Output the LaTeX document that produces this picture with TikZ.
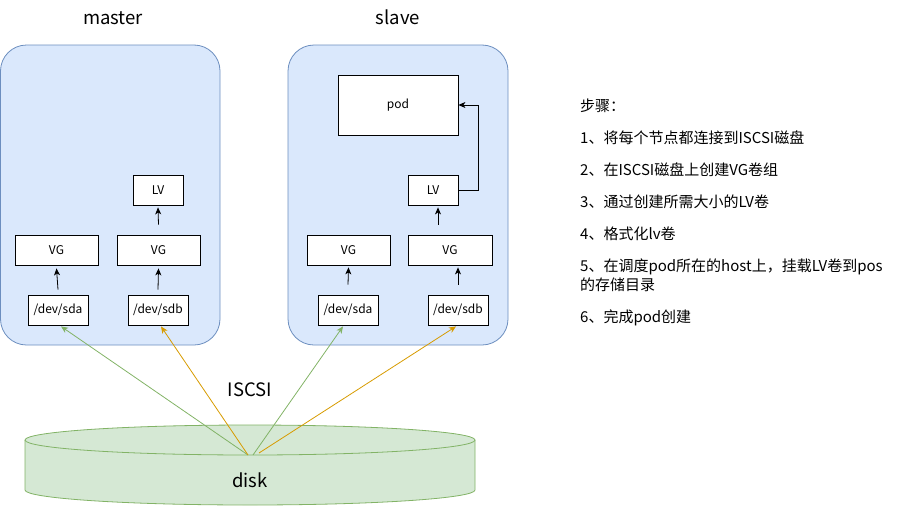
\documentclass[tikz,border=0pt]{standalone}
\usepackage{fontspec}
\setmainfont{Noto Sans CJK SC}
\usetikzlibrary{arrows.meta,calc}
\definecolor{bluefill}{HTML}{DAE8FC}
\definecolor{bluedraw}{HTML}{6C8EBF}
\definecolor{greenfill}{HTML}{D5E8D4}
\definecolor{greendraw}{HTML}{82B366}
\definecolor{orangedraw}{HTML}{D79B00}
\tikzset{
  group/.style={draw=bluedraw, fill=bluefill, rounded corners=26pt, line width=0.8pt},
  box/.style={draw=black, fill=white, inner sep=0pt, line width=0.8pt, font=\fontsize{12}{14}\selectfont},
  arr/.style={draw=black, line width=0.8pt, -{Stealth[length=7pt,width=6pt,inset=2pt]}},
  garr/.style={draw=greendraw, line width=0.8pt, -{Stealth[length=7pt,width=6pt,inset=2pt]}},
  oarr/.style={draw=orangedraw, line width=0.8pt, -{Stealth[length=7pt,width=6pt,inset=2pt]}},
  title/.style={font=\fontsize{18.5}{20}\selectfont, inner sep=0pt},
  steptext/.style={font=\fontsize{15}{19}\selectfont, anchor=west, inner sep=0pt, align=left},
}
\begin{document}
\begin{tikzpicture}[x=1pt,y=-1pt]
\useasboundingbox (0,0) rectangle (909,506);
% group containers
\draw[group] (0.5,45) rectangle (220,345);
\draw[group] (288,45) rectangle (508,345);
% titles
\node[title] (tmaster) at (113,18) {master};
\node[title] (tslave) at (398,17) {slave};
% master nodes
\node[box, minimum width=50pt, minimum height=30pt] (mLV) at (158,190) {LV};
\node[box, minimum width=83pt, minimum height=30pt] (mVG1) at (56.5,250) {VG};
\node[box, minimum width=83pt, minimum height=30pt] (mVG2) at (158.5,250) {VG};
\node[box, minimum width=60pt, minimum height=30pt] (msda) at (58,310) {/dev/sda};
\node[box, minimum width=60pt, minimum height=30pt] (msdb) at (158,310) {/dev/sdb};
% slave nodes
\node[box, minimum width=120pt, minimum height=60pt] (pod) at (398,105) {pod};
\node[box, minimum width=50pt, minimum height=30pt] (sLV) at (433,190) {LV};
\node[box, minimum width=83pt, minimum height=30pt] (sVG1) at (348.5,250) {VG};
\node[box, minimum width=84pt, minimum height=30pt] (sVG2) at (450,250) {VG};
\node[box, minimum width=60pt, minimum height=30pt] (ssda) at (348,310) {/dev/sda};
\node[box, minimum width=60pt, minimum height=30pt] (ssdb) at (458,310) {/dev/sdb};
% internal arrows (master)
\draw[arr] ($(msda.north)+(0,-5)$) -- ($(mVG1.south)+(0,3)$);
\draw[arr] ($(msdb.north)+(0,-5)$) -- ($(mVG2.south)+(0,3)$);
\draw[arr] ($(mVG2.north)+(0,-10)$) -- ($(mLV.south)+(0,2)$);
% internal arrows (slave)
\draw[arr] ($(ssda.north)+(0,-10)$) -- ($(sVG1.south)+(0,2)$);
\draw[arr] ($(ssdb.north)+(0,-10)$) -- ($(ssdb.north |- sVG2.south)+(0,2)$);
\draw[arr] ($(sVG2.north)+(-12,-10)$) -- ($(sVG2.north |- sLV.south)+(-12,2)$);
\draw[arr] (sLV.east) -- ++(20,0) |- (pod.east);
% disk cylinder
\fill[greenfill] (25,440) -- (25,490) arc[start angle=180, end angle=360, x radius=225, y radius=-15] -- (475,440) arc[start angle=0, end angle=180, x radius=225, y radius=-15] -- cycle;
\draw[greendraw, line width=0.8pt] (25,440) -- (25,490) arc[start angle=180, end angle=360, x radius=225, y radius=-15] -- (475,440);
\draw[greendraw, line width=0.8pt, fill=greenfill] (250,440) ellipse[x radius=225, y radius=15];
\node[title] (disk) at (250,480) {disk};
\node[title] (iscsi) at (250,390) {ISCSI};
\coordinate (s1) at (248,455);
\coordinate (s2) at (248,455);
\coordinate (s3) at (253,455);
\coordinate (s4) at (259,453);
% iscsi arrows
\draw[garr] (s1) -- ($(msda.south)+(3,1)$);
\draw[oarr] (s2) -- ($(msdb.south)+(3,1)$);
\draw[garr] (s3) -- ($(ssda.south)+(-5,1)$);
\draw[oarr] (s4) -- ($(ssdb.south)+(-2,1)$);
% steps
\node[steptext] (st0) at (580,106) {步骤：};
\node[steptext] (st1) at (580,138) {1、将每个节点都连接到ISCSI磁盘};
\node[steptext] (st2) at (580,170) {2、在ISCSI磁盘上创建VG卷组};
\node[steptext] (st3) at (580,202) {3、通过创建所需大小的LV卷};
\node[steptext] (st4) at (580,234) {4、格式化lv卷};
\node[steptext] (st5) at (580,275) {5、在调度pod所在的host上，挂载LV卷到pos\\的存储目录};
\node[steptext] (st6) at (580,318) {6、完成pod创建};
\end{tikzpicture}
\end{document}
